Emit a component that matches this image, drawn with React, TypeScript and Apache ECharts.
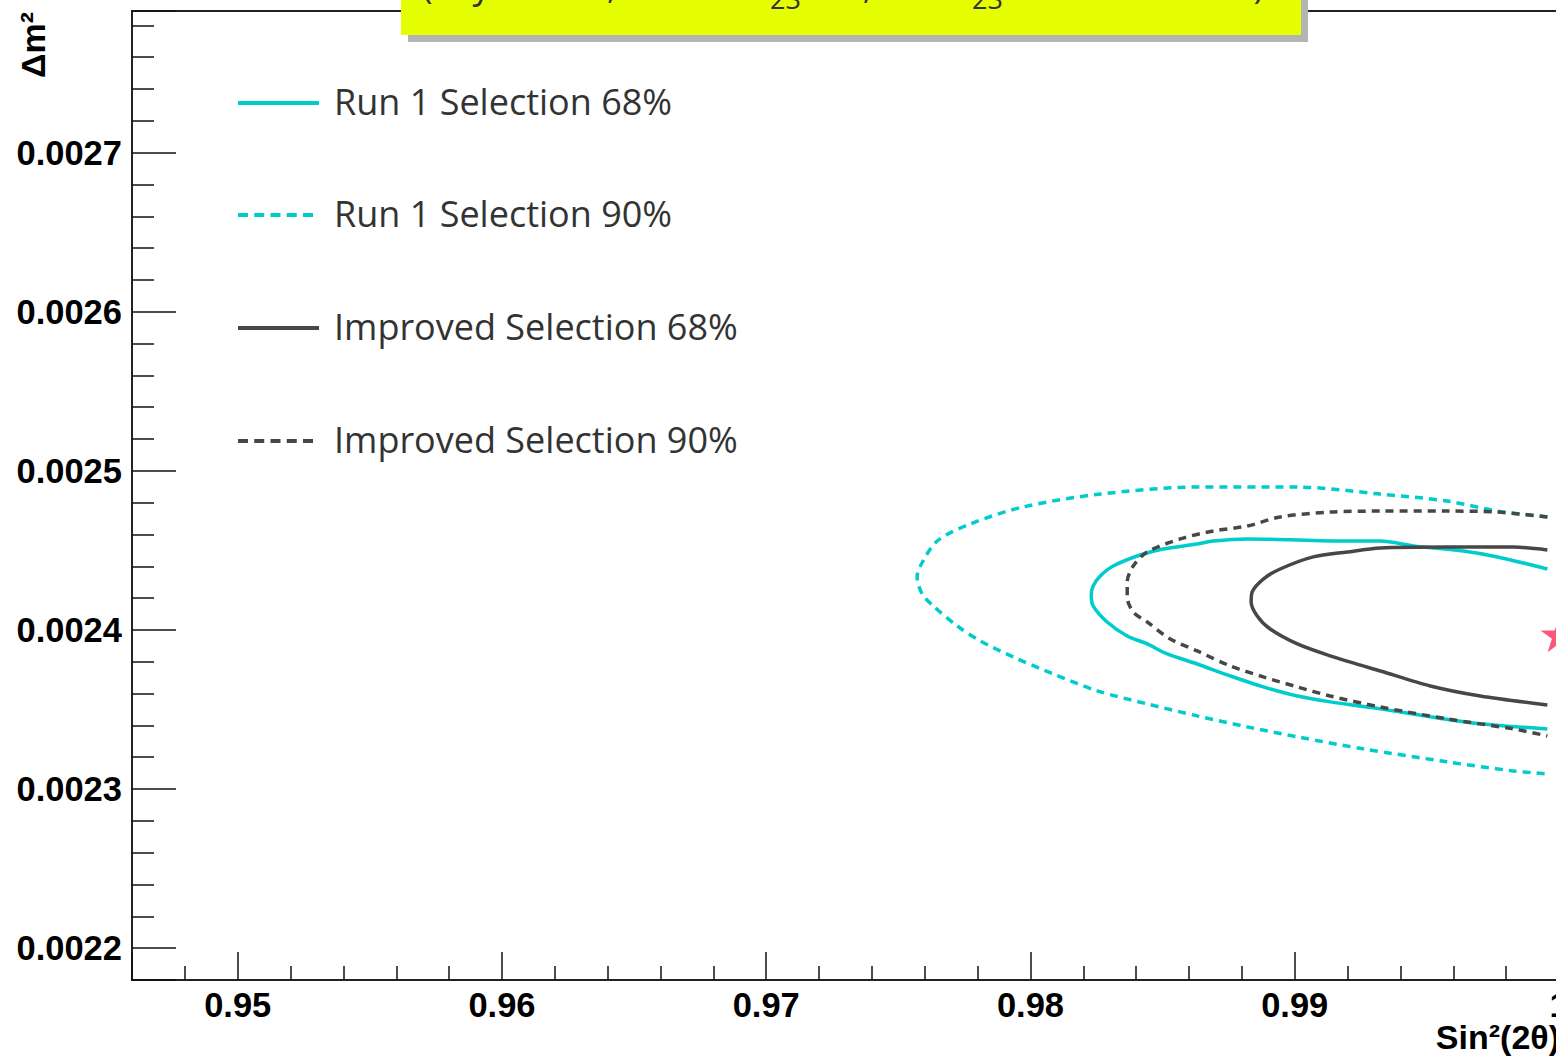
import React, { useEffect, useRef } from "react";
import * as echarts from "echarts";

// Axis ranges
const X_MIN = 0.946;
const X_MAX = 1.0;
const X_STEP = 0.01;
const Y_MIN = 0.00218;
const Y_MAX = 0.002789;
const Y_STEP = 0.0001;

// Contours [sin^2(2theta), delta m^2]
const run1Contour68: [number, number][] = [
  [0.99956, 0.0024383], [0.99767, 0.0024459], [0.99638, 0.0024496], [0.99449, 0.0024528],
  [0.99324, 0.0024559], [0.99199, 0.0024559], [0.9882, 0.0024572], [0.98692, 0.0024559],
  [0.98631, 0.002454], [0.98502, 0.0024509], [0.98415, 0.0024471], [0.98313, 0.0024402],
  [0.98264, 0.0024339], [0.98237, 0.0024276], [0.9823, 0.002422], [0.98237, 0.0024151],
  [0.9829, 0.002405], [0.98366, 0.0023962], [0.98442, 0.0023912], [0.98518, 0.0023849],
  [0.98631, 0.0023786], [0.98756, 0.0023711], [0.98881, 0.0023642], [0.9901, 0.0023585],
  [0.99134, 0.0023548], [0.99324, 0.0023504], [0.99513, 0.0023454], [0.99702, 0.002341],
  [0.99956, 0.0023378],
];

const run1Contour90: [number, number][] = [
  [0.99956, 0.002471], [0.99767, 0.0024747], [0.99577, 0.002481], [0.99324, 0.0024854],
  [0.9901, 0.0024898], [0.98631, 0.0024898], [0.98264, 0.0024854], [0.97972, 0.0024773],
  [0.97772, 0.0024666], [0.97647, 0.0024559], [0.97583, 0.0024402], [0.97571, 0.0024333],
  [0.9759, 0.0024226], [0.97632, 0.0024151], [0.97723, 0.0024025], [0.9781, 0.0023931],
  [0.97935, 0.002383], [0.98086, 0.0023724], [0.98253, 0.0023617], [0.98442, 0.0023535],
  [0.98631, 0.002346], [0.9882, 0.0023391], [0.9901, 0.0023328], [0.99259, 0.0023253],
  [0.99577, 0.0023171], [0.99827, 0.0023114], [0.99956, 0.0023095],
];

const improvedContour68: [number, number][] = [
  [0.99956, 0.0024503], [0.99827, 0.0024521], [0.99577, 0.0024521], [0.99324, 0.0024515],
  [0.99199, 0.002449], [0.9907, 0.0024459], [0.98945, 0.0024383], [0.98881, 0.002432],
  [0.98839, 0.0024239], [0.98835, 0.0024176], [0.98858, 0.0024088], [0.98907, 0.0024006],
  [0.9901, 0.0023912], [0.99134, 0.0023837], [0.99259, 0.0023774], [0.99324, 0.0023742],
  [0.99513, 0.0023648], [0.99702, 0.0023585], [0.99956, 0.0023529],
];

const improvedContour90: [number, number][] = [
  [0.99956, 0.002471], [0.99767, 0.0024741], [0.99577, 0.0024747], [0.99324, 0.0024747],
  [0.99134, 0.0024741], [0.98945, 0.002471], [0.9882, 0.0024653], [0.98692, 0.0024622],
  [0.98567, 0.0024572], [0.98442, 0.002449], [0.98389, 0.0024402], [0.98366, 0.0024302],
  [0.98366, 0.0024207], [0.98389, 0.0024113], [0.98442, 0.002405], [0.98529, 0.0023943],
  [0.98631, 0.0023868], [0.98756, 0.0023774], [0.98881, 0.0023705], [0.9901, 0.0023642],
  [0.99134, 0.0023585], [0.99324, 0.0023516], [0.99577, 0.0023441], [0.99827, 0.0023378],
  [0.99956, 0.0023334],
];

const bestFitPoint: [number, number][] = [[1.0, 0.002397]];

const legendLabels = [
  "Run 1 Selection 68%",
  "Run 1 Selection 90%",
  "Improved Selection 68%",
  "Improved Selection 90%",
];

const xAxisTitle = "Sin²(2θ)";
const yAxisTitle = "Δm²";

const CYAN = "#00cccc";
const DARK = "#474747";
const STAR = "#fe2b5c";
const AXIS_FONT = '"Liberation Sans", Arial, sans-serif';
const TEXT_FONT = '"Open Sans", "Noto Sans", sans-serif';

const STAR_PATH =
  "path://M50,0 L61.2,34.5 L97.6,34.5 L68.2,55.9 L79.4,90.5 L50,69.1 L20.6,90.5 L31.8,55.9 L2.4,34.5 L38.8,34.5 Z";

function isMultiple(v: number, step: number) {
  const r = v / step;
  return Math.abs(r - Math.round(r)) < 1e-6;
}

export default function App() {
  const ref = useRef<HTMLDivElement>(null);

  useEffect(() => {
    if (!ref.current) return;
    const chart = echarts.init(ref.current, undefined, { renderer: "svg" });

    const seriesDefs = [
      { name: legendLabels[0], data: run1Contour68, color: CYAN, dashed: false },
      { name: legendLabels[1], data: run1Contour90, color: CYAN, dashed: true },
      { name: legendLabels[2], data: improvedContour68, color: DARK, dashed: false },
      { name: legendLabels[3], data: improvedContour90, color: DARK, dashed: true },
    ];

    const legendRowsY = [103, 215, 328, 441];
    const legendGraphics: any[] = [];
    seriesDefs.forEach((s, i) => {
      const y = legendRowsY[i];
      legendGraphics.push({
        type: "line",
        z: 10,
        shape: { x1: 238, y1: y, x2: s.dashed ? 313 : 319, y2: y },
        style: {
          stroke: s.color,
          lineWidth: 4,
          lineDash: s.dashed ? [10, 6.25] : null,
        },
      });
      legendGraphics.push({
        type: "text",
        z: 10,
        x: 334,
        y: y - 2,
        style: {
          text: s.name,
          font: `36px ${TEXT_FONT}`,
          fill: "#333333",
          align: "left",
          verticalAlign: "middle",
          textAlign: "left",
          textVerticalAlign: "middle",
        },
      });
    });

    const titleTexts: any[] = [
      { text: "(Asymov fit,", x: 422, y: -16, size: 36, align: "left" },
      { text: "sin²θ", x: 768, y: -16, size: 36, align: "right" },
      { text: "23", x: 770, y: -2, size: 27, align: "left" },
      { text: " = 1,", x: 803, y: -16, size: 36, align: "left" },
      { text: "Δm²", x: 970, y: -16, size: 36, align: "right" },
      { text: "23", x: 972, y: -2, size: 27, align: "left" },
      { text: " = 2.4×10⁻³ eV²)", x: 1264, y: -16, size: 36, align: "right" },
    ];

    const option: any = {
      animation: false,
      backgroundColor: "#ffffff",
      grid: {
        left: 132,
        top: 11,
        width: 1427,
        bottom: 78,
        show: true,
        borderColor: "#222222",
        borderWidth: 2,
        backgroundColor: "transparent",
      },
      xAxis: {
        type: "value",
        min: X_MIN,
        max: X_MAX,
        minInterval: X_STEP,
        maxInterval: X_STEP,
        splitNumber: 5,
        axisLine: { show: true, lineStyle: { color: "#222222", width: 2 } },
        axisTick: { show: true, inside: true, length: 28, lineStyle: { color: "#111111", width: 1.5 } },
        minorTick: { show: true, splitNumber: 5, length: 14, lineStyle: { color: "#111111", width: 1.5 } },
        splitLine: { show: false },
        minorSplitLine: { show: false },
        axisLabel: {
          show: true,
          margin: 7,
          showMinLabel: false,
          color: "#000000",
          fontFamily: AXIS_FONT,
          fontWeight: "bold",
          fontSize: 34.5,
          formatter: (v: number) => {
            if (!isMultiple(v, X_STEP)) return "";
            if (Math.abs(v - 1) < 1e-9) return "1";
            return v.toFixed(2);
          },
        },
      },
      yAxis: {
        type: "value",
        min: Y_MIN,
        max: Y_MAX,
        minInterval: Y_STEP,
        maxInterval: Y_STEP,
        splitNumber: 6,
        axisLine: { show: true, lineStyle: { color: "#222222", width: 2 } },
        axisTick: { show: true, inside: true, length: 44, lineStyle: { color: "#111111", width: 1.5 } },
        minorTick: { show: true, splitNumber: 5, length: 22, lineStyle: { color: "#111111", width: 1.5 } },
        splitLine: { show: false },
        minorSplitLine: { show: false },
        axisLabel: {
          show: true,
          margin: 10,
          showMinLabel: false,
          showMaxLabel: false,
          color: "#000000",
          fontFamily: AXIS_FONT,
          fontWeight: "bold",
          fontSize: 34.5,
          formatter: (v: number) => {
            if (!isMultiple(v, Y_STEP)) return "";
            return v.toFixed(4);
          },
        },
      },
      series: [
        ...seriesDefs.map((s) => ({
          name: s.name,
          type: "line",
          data: s.data,
          showSymbol: false,
          symbol: "none",
          smooth: 0.3,
          silent: true,
          lineStyle: {
            color: s.color,
            width: 3.5,
            type: s.dashed ? [8, 6] : "solid",
          },
        })),
        {
          name: "Best fit",
          type: "scatter",
          data: bestFitPoint,
          symbol: STAR_PATH,
          symbolSize: [37, 35],
          clip: false,
          silent: true,
          itemStyle: { color: STAR },
        },
      ],
      graphic: [
        {
          type: "rect",
          z: 9,
          shape: { x: 408, y: -20, width: 900, height: 62 },
          style: { fill: "#b4b4b4" },
        },
        {
          type: "rect",
          z: 10,
          shape: { x: 401, y: -20, width: 900, height: 55 },
          style: { fill: "#e5ff00" },
        },
        ...titleTexts.map((t) => ({
          type: "text",
          z: 11,
          x: t.x,
          y: t.y,
          style: {
            text: t.text,
            font: `${t.size}px ${TEXT_FONT}`,
            fill: "#333333",
            align: t.align,
            verticalAlign: "middle",
            textAlign: t.align,
            textVerticalAlign: "middle",
          },
        })),
        ...legendGraphics,
        {
          type: "text",
          z: 10,
          x: 1560,
          y: 1037,
          style: {
            text: xAxisTitle,
            font: `bold 34px ${AXIS_FONT}`,
            fill: "#000000",
            align: "right",
            verticalAlign: "middle",
            textAlign: "right",
            textVerticalAlign: "middle",
          },
        },
        {
          type: "text",
          z: 10,
          x: 33,
          y: 12,
          rotation: Math.PI / 2,
          style: {
            text: yAxisTitle,
            font: `bold 34px ${AXIS_FONT}`,
            fill: "#000000",
            align: "right",
            verticalAlign: "middle",
            textAlign: "right",
            textVerticalAlign: "middle",
          },
        },
      ],
    };

    chart.setOption(option);
    return () => {
      chart.dispose();
    };
  }, []);

  return (
    <div
      style={{
        position: "fixed",
        left: 0,
        top: 0,
        width: 1556,
        height: 1058,
        overflow: "hidden",
        background: "#ffffff",
      }}
    >
      <div ref={ref} style={{ width: 1600, height: 1058 }} />
    </div>
  );
}
